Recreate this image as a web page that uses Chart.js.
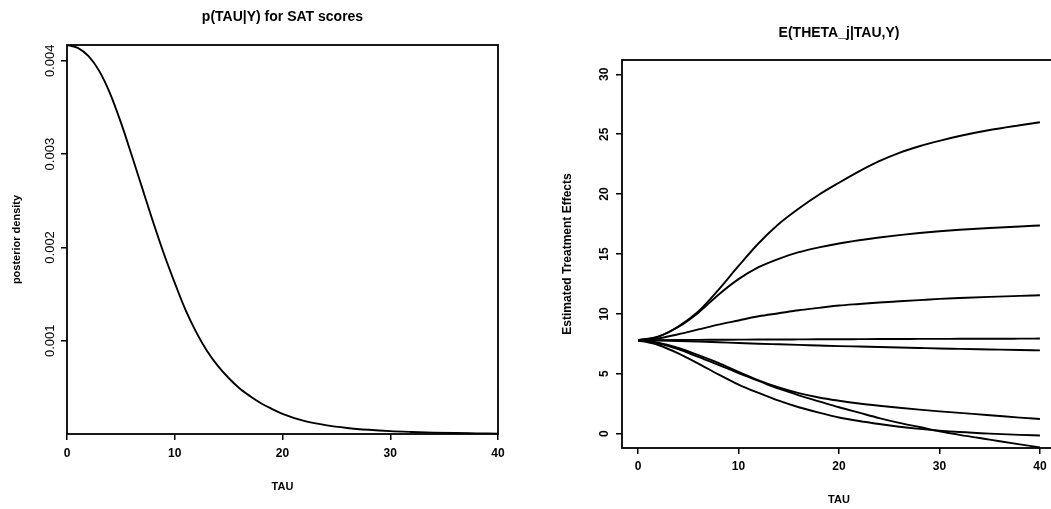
<!DOCTYPE html>
<html>
<head>
<meta charset="utf-8">
<title>SAT coaching: p(TAU|Y) and E(THETA_j|TAU,Y)</title>
<script src="https://cdn.jsdelivr.net/npm/chart.js@4.4.0/dist/chart.umd.min.js"></script>
<style>
  html, body { margin: 0; padding: 0; background: #fff; overflow: hidden; }
  #wrap { position: relative; width: 1051px; height: 509px; overflow: hidden; }
  canvas { position: absolute; top: 0; }
  #density-chart { left: 0; }
  #effects-chart { left: 530px; }
</style>
</head>
<body>
<div id="wrap">
  <canvas id="density-chart" width="525" height="509"></canvas>
  <canvas id="effects-chart" width="540" height="509"></canvas>
</div>
<script>
// left panel: posterior density of TAU
const densityTau = [0, 1, 2, 3, 4, 5, 6, 7, 8, 9, 10, 11, 12, 13, 14, 15, 16, 17, 18, 19, 20,
  22, 24, 26, 28, 30, 32, 34, 36, 38, 40];
const densityValues = [0.00417, 0.00414, 0.00405, 0.00389, 0.00365, 0.00334, 0.00299, 0.00263,
  0.00227, 0.00193, 0.00162, 0.00133, 0.00109, 0.00089, 0.00073, 0.0006, 0.00049, 0.000405,
  0.00033, 0.00027, 0.000215, 0.00014, 0.000095, 0.000065, 0.000045, 0.000031, 0.000022,
  0.000015, 0.00001, 0.000007, 0.000004];
const densityTicks = [0.001, 0.002, 0.003, 0.004];
const tauTicks = [0, 10, 20, 30, 40];

// right panel: conditional posterior means of the eight school effects
const effectTau = [0, 2, 4, 6, 8, 10, 12, 14, 16, 18, 20, 22, 24, 26, 28, 30, 32, 35, 38, 40];
const schoolA = [7.8, 8.1, 8.95, 10.2, 12.0, 14.0, 15.9, 17.5, 18.8, 19.95, 20.95, 21.9, 22.75,
  23.45, 24.0, 24.45, 24.85, 25.35, 25.75, 26.0];
const schoolB = [7.8, 7.81, 7.82, 7.83, 7.84, 7.85, 7.86, 7.86, 7.87, 7.88, 7.88, 7.89, 7.9,
  7.9, 7.91, 7.91, 7.92, 7.92, 7.93, 7.94];
const schoolC = [7.8, 7.55, 7.05, 6.4, 5.75, 5.05, 4.4, 3.75, 3.2, 2.7, 2.2, 1.75, 1.3, 0.9,
  0.55, 0.2, -0.1, -0.5, -0.9, -1.15];
const schoolD = [7.8, 7.78, 7.74, 7.69, 7.63, 7.57, 7.51, 7.46, 7.41, 7.36, 7.31, 7.27, 7.23,
  7.19, 7.15, 7.11, 7.08, 7.03, 6.98, 6.95];
const schoolE = [7.8, 7.4, 6.7, 5.85, 4.95, 4.1, 3.4, 2.75, 2.2, 1.75, 1.35, 1.05, 0.8, 0.58,
  0.4, 0.25, 0.13, 0.0, -0.1, -0.15];
const schoolF = [7.8, 7.6, 7.15, 6.55, 5.9, 5.15, 4.45, 3.85, 3.38, 3.02, 2.75, 2.52, 2.33,
  2.16, 2.0, 1.86, 1.73, 1.54, 1.34, 1.22];
const schoolG = [7.8, 8.1, 8.9, 10.1, 11.6, 12.9, 13.9, 14.6, 15.15, 15.55, 15.88, 16.15, 16.38,
  16.58, 16.75, 16.9, 17.02, 17.17, 17.3, 17.38];
const schoolH = [7.8, 7.95, 8.3, 8.7, 9.1, 9.45, 9.8, 10.05, 10.3, 10.5, 10.7, 10.83, 10.95,
  11.05, 11.15, 11.25, 11.32, 11.42, 11.5, 11.55];
const effectTicks = [0, 5, 10, 15, 20, 25, 30];

const FONT = "'Liberation Sans', Arial, Helvetica, sans-serif";

function toPoints(xs, ys) {
  return xs.map((x, i) => ({ x, y: ys[i] }));
}

function curve(xs, ys) {
  return {
    data: toPoints(xs, ys),
    showLine: true,
    borderColor: "#000",
    borderWidth: 1.9,
    pointRadius: 0,
    cubicInterpolationMode: "monotone",
  };
}

// box, titles and rotated tick labels in the old S-plot style
function makeFrame(cfg) {
  return {
    id: "frame",
    afterDraw(chart) {
      const { ctx, chartArea: a, scales } = chart;
      ctx.save();
      ctx.strokeStyle = "#000";
      ctx.lineWidth = 1.8;
      ctx.strokeRect(a.left, a.top, a.right - a.left, a.bottom - a.top);
      ctx.fillStyle = "#000";
      ctx.textAlign = "center";
      ctx.textBaseline = "middle";

      ctx.font = "bold 14px " + FONT;
      ctx.fillText(cfg.title, (a.left + a.right) / 2, a.top - cfg.titleGap);

      ctx.font = "bold 12px " + FONT;
      cfg.xTicks.forEach((v) => {
        ctx.fillText(String(v), scales.x.getPixelForValue(v), a.bottom + cfg.xTickGap);
      });

      ctx.font = "bold 11px " + FONT;
      ctx.fillText(cfg.xTitle, (a.left + a.right) / 2, a.bottom + cfg.xTitleGap);

      ctx.font = cfg.yTickFont;
      cfg.yTicks.forEach((v) => {
        ctx.save();
        ctx.translate(a.left - cfg.yTickGap, scales.y.getPixelForValue(v));
        ctx.rotate(-Math.PI / 2);
        ctx.fillText(v.toFixed(cfg.yDecimals), 0, 0);
        ctx.restore();
      });

      ctx.font = cfg.yTitleFont;
      ctx.save();
      ctx.translate(a.left - cfg.yTitleGap, (a.top + a.bottom) / 2);
      ctx.rotate(-Math.PI / 2);
      ctx.fillText(cfg.yTitle, 0, 0);
      ctx.restore();
      ctx.restore();
    },
  };
}

function axis(min, max, ticks, fitKey, fitSize) {
  return {
    type: "linear",
    min,
    max,
    afterBuildTicks: (scale) => {
      scale.ticks = ticks.map((value) => ({ value }));
    },
    afterFit: (scale) => {
      scale[fitKey] = fitSize;
    },
    ticks: { display: false },
    grid: { drawOnChartArea: false, drawTicks: true, tickLength: 6, color: "#000", lineWidth: 1.5 },
    border: { display: false },
  };
}

function baseOptions(pad, xScale, yScale) {
  return {
    responsive: false,
    animation: false,
    layout: { padding: pad },
    scales: { x: xScale, y: yScale },
    plugins: { legend: { display: false }, tooltip: { enabled: false } },
  };
}

new Chart(document.getElementById("density-chart"), {
  type: "scatter",
  data: { datasets: [curve(densityTau, densityValues)] },
  options: baseOptions(
    { top: 45, right: 27, left: 0, bottom: 0 },
    axis(0, 40, tauTicks, "height", 75),
    axis(0, 0.00417, densityTicks, "width", 67)
  ),
  plugins: [
    makeFrame({
      title: "p(TAU|Y) for SAT scores",
      titleGap: 28,
      xTicks: tauTicks,
      xTickGap: 20,
      xTitle: "TAU",
      xTitleGap: 53,
      yTicks: densityTicks,
      yDecimals: 3,
      yTickGap: 17,
      yTickFont: "13px " + FONT,
      yTitle: "posterior density",
      yTitleGap: 50,
      yTitleFont: "bold 11px " + FONT,
    }),
  ],
});

new Chart(document.getElementById("effects-chart"), {
  type: "scatter",
  data: {
    datasets: [schoolA, schoolB, schoolC, schoolD, schoolE, schoolF, schoolG, schoolH].map((s) =>
      curve(effectTau, s)
    ),
  },
  options: baseOptions(
    { top: 60, right: 14, left: 0, bottom: 0 },
    axis(-1.6, 41.6, tauTicks, "height", 61),
    axis(-1.2, 31.2, effectTicks, "width", 92)
  ),
  plugins: [
    makeFrame({
      title: "E(THETA_j|TAU,Y)",
      titleGap: 27,
      xTicks: tauTicks,
      xTickGap: 19,
      xTitle: "TAU",
      xTitleGap: 52,
      yTicks: effectTicks,
      yDecimals: 0,
      yTickGap: 17,
      yTickFont: "bold 12px " + FONT,
      yTitle: "Estimated Treatment Effects",
      yTitleGap: 54,
      yTitleFont: "bold 12px " + FONT,
    }),
  ],
});
</script>
</body>
</html>
